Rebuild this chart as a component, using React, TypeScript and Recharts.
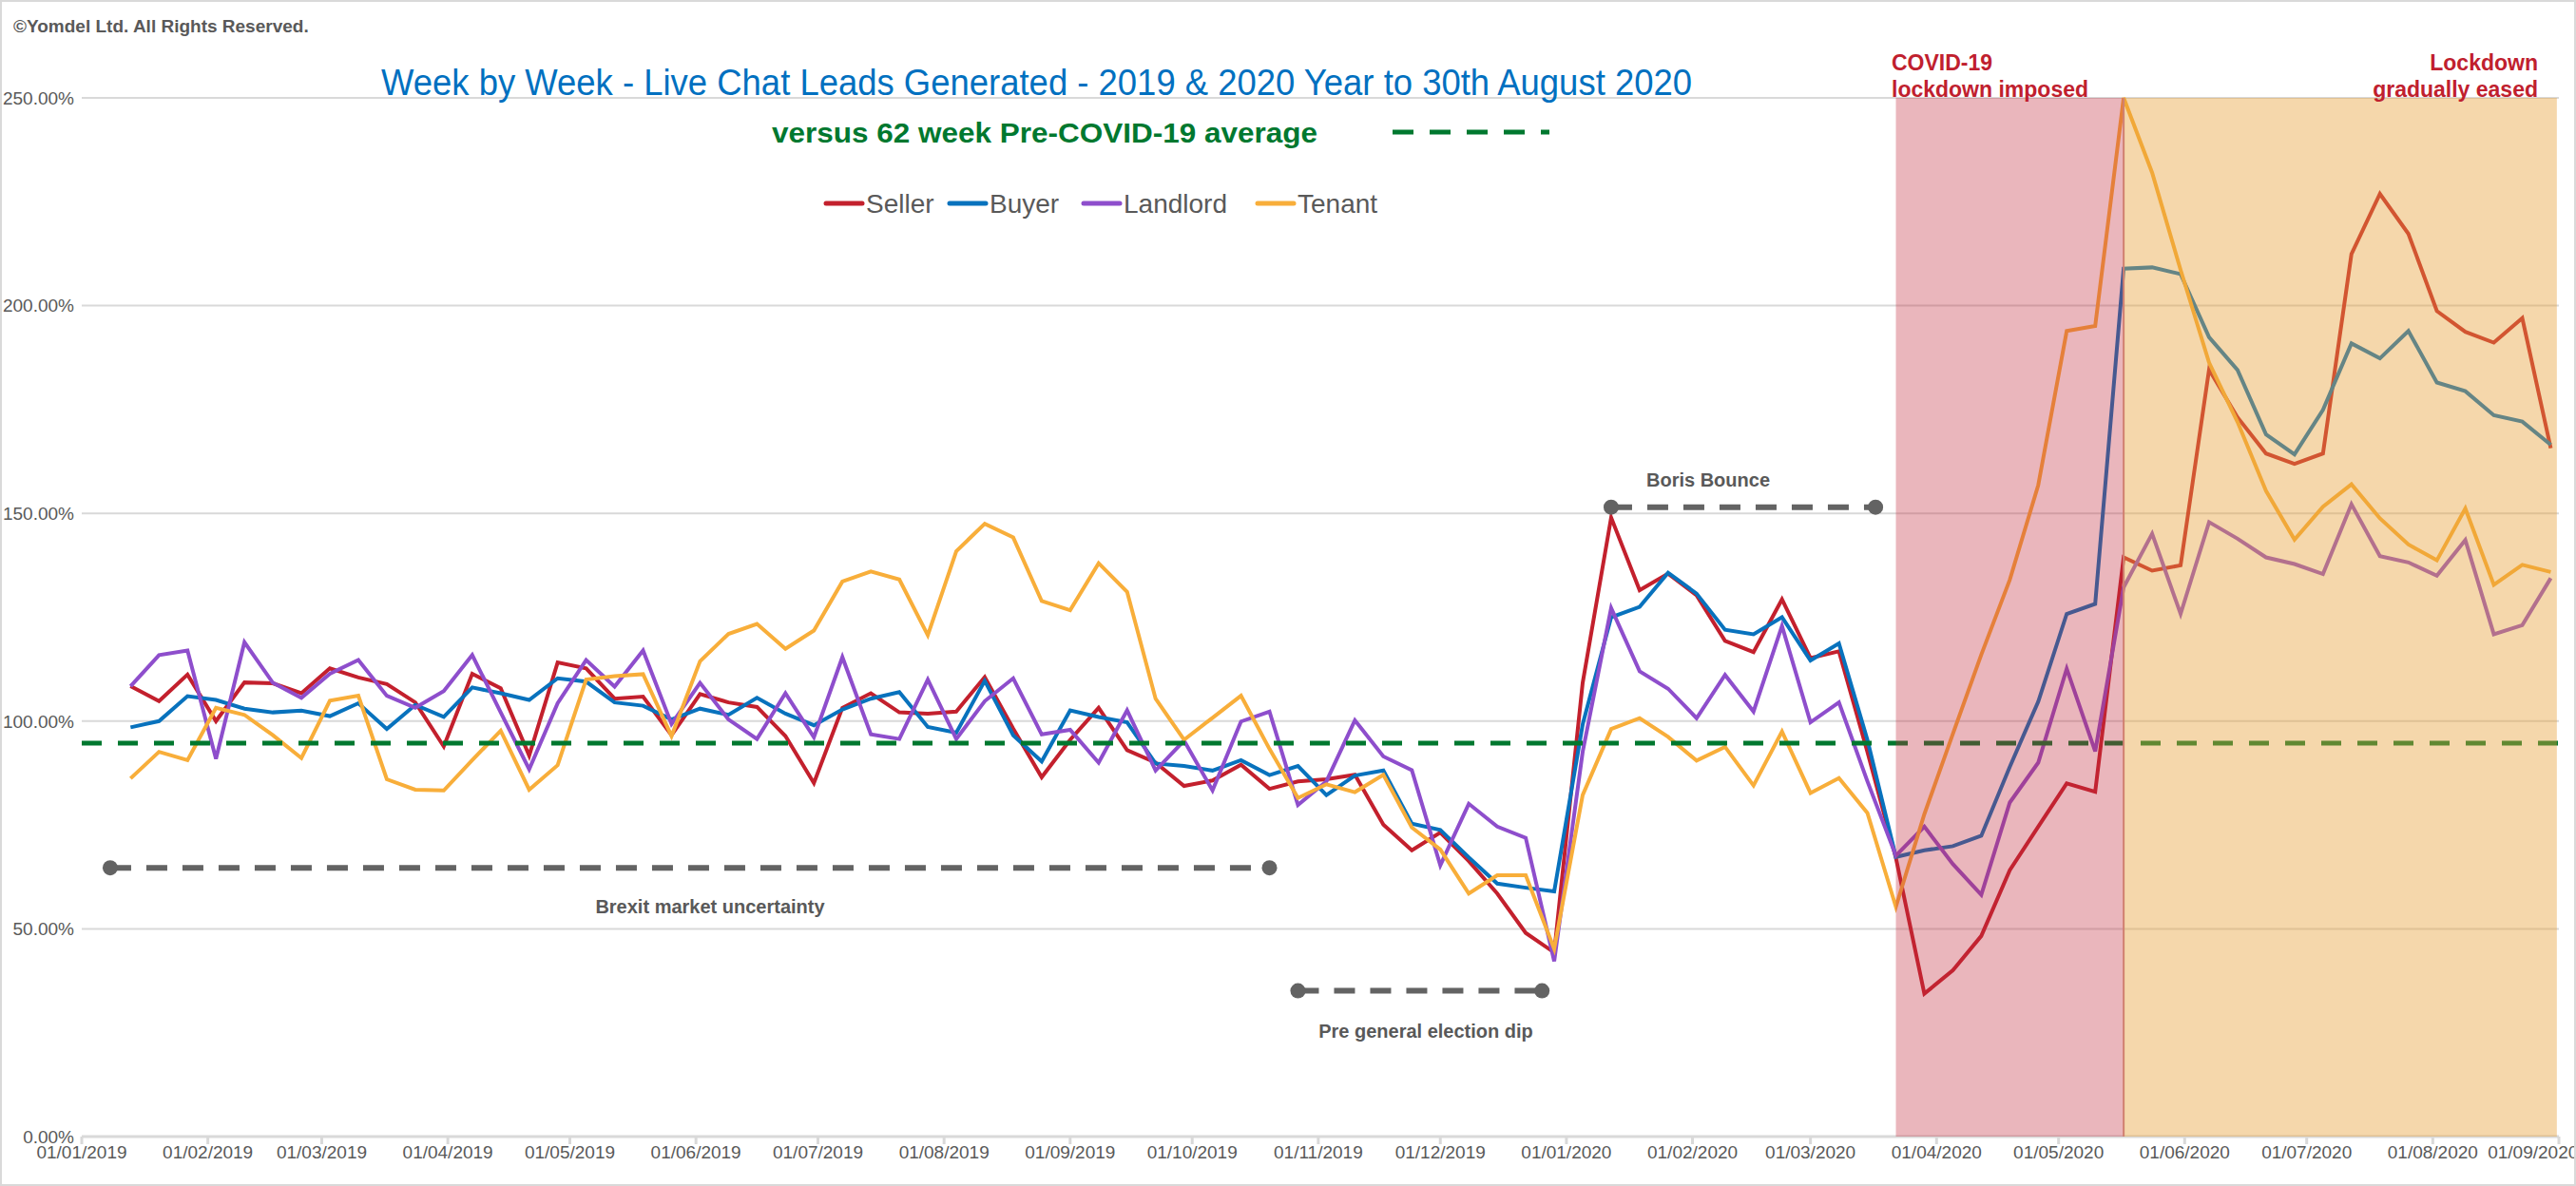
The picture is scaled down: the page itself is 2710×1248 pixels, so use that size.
import React from 'react';
import {
  LineChart, Line, XAxis, YAxis, CartesianGrid, ReferenceLine, ReferenceArea, ReferenceDot,
} from 'recharts';

// weekly points, first week ending 13/01/2019
const firstWeek = '2019-01-13';
const weekCount = 86;

const seller = [
  108.4, 104.8, 111.2, 100, 109.3, 109.1, 106.7, 112.7, 110.5, 108.9,
  104.5, 93.9, 111.4, 107.9, 91.7, 114.1, 112.7, 105.4, 105.9, 96.6,
  106.5, 104.5, 103.4, 96.4, 85.1, 103.2, 106.7, 102.1, 101.8, 102.3,
  110.6, 98.2, 86.5, 95.5, 103.2, 93, 90, 84.4, 85.7, 89.5,
  83.7, 85.5, 86, 87.1, 75.1, 68.9, 73.2, 66.3, 58.5, 49,
  44.3, 109.2, 149, 131.5, 135.5, 130.3, 119.3, 116.6, 129.3, 115.2,
  116.8, 92.6, 67.1, 34.4, 40, 48.3, 64.1, 74.6, 85, 83,
  139.4, 136.2, 137.5, 184.6, 173.1, 164.4, 161.9, 164.4, 212.4, 226.9,
  217.3, 198.7, 193.7, 191.1, 197, 165.7,
];
const buyer = [
  98.5, 100, 106, 105.1, 103, 102.1, 102.5, 101.2, 104.3, 98.1,
  103.9, 101, 108.1, 106.7, 105.1, 110.3, 109.5, 104.5, 103.7, 100.4,
  103, 101.5, 105.6, 101.8, 99, 102.8, 105.4, 107, 98.6, 97.2,
  109.7, 96.6, 90.3, 102.6, 101, 99.7, 89.8, 89.2, 88.1, 90.6,
  87, 89.2, 82.2, 86.9, 88.1, 75.3, 73.8, 67.2, 60.9, 59.9,
  59, 99.2, 125, 127.5, 135.7, 130.7, 122, 120.9, 125, 114.6,
  118.7, 95.5, 67.3, 68.9, 69.9, 72.4, 89, 104.7, 125.8, 128.2,
  208.9, 209.2, 207.6, 192.4, 184.5, 169, 164.2, 174.9, 190.9, 187.3,
  193.9, 181.5, 179.4, 173.6, 172.1, 166.5,
];
const landlord = [
  108.4, 115.9, 117, 90.9, 119, 109.2, 105.6, 111.4, 114.7, 106.1,
  103.2, 107.2, 115.9, 102.1, 88.4, 104.3, 114.7, 108.3, 117, 99.3,
  109.2, 100.4, 95.7, 106.7, 96.1, 115.4, 96.8, 95.7, 110, 95.7,
  104.8, 110.3, 96.8, 97.9, 90, 102.6, 88.1, 95.3, 83.3, 99.9,
  102.3, 79.8, 85.5, 100.2, 91.5, 88.2, 65.3, 80.1, 74.6, 71.9,
  42.2, 92.6, 127.2, 112, 107.8, 100.7, 111.1, 102.3, 122.9, 99.7,
  104.5, 85.5, 67.6, 74.6, 65.6, 58.2, 80.4, 90, 112.6, 92.7,
  132.2, 145.1, 125.8, 147.9, 143.9, 139.4, 137.8, 135.4, 152.2, 139.7,
  138.2, 135, 143.6, 120.9, 123.1, 134.4,
];
const tenant = [
  86.2, 92.6, 90.6, 103.2, 101.5, 96.6, 91.1, 104.9, 106.1, 86,
  83.5, 83.3, 90.6, 97.7, 83.5, 89.4, 110, 110.8, 111.3, 96.4,
  114.4, 121, 123.4, 117.4, 121.8, 133.6, 136, 134.1, 120.7, 140.9,
  147.5, 144.2, 128.9, 126.7, 138, 131.1, 105.4, 95.5, 100.8, 106.1,
  93.3, 81.5, 84.8, 82.9, 87.1, 74.4, 69.1, 58.5, 62.9, 62.9,
  45.2, 82.2, 98.1, 100.7, 96.2, 90.5, 93.8, 84.5, 97.5, 82.7,
  86.3, 77.9, 55.3, 77.6, 96.9, 116, 134, 156.8, 193.9, 195.1,
  250, 232, 208.6, 186.3, 172, 155.4, 143.7, 151.6, 157, 148.8,
  142.5, 138.7, 151.2, 132.8, 137.6, 135.9,
];

const monthTicks = [
  '2019-01-01', '2019-02-01', '2019-03-01', '2019-04-01', '2019-05-01', '2019-06-01', '2019-07-01',
  '2019-08-01', '2019-09-01', '2019-10-01', '2019-11-01', '2019-12-01', '2020-01-01', '2020-02-01',
  '2020-03-01', '2020-04-01', '2020-05-01', '2020-06-01', '2020-07-01', '2020-08-01', '2020-09-01',
];
const yTicks = [0, 50, 100, 150, 200, 250];
const preCovidAverage = 94.7;

const DAY = 86400000;
const origin = Date.UTC(2019, 0, 1);
const toDay = (s: string) => (Date.parse(s + 'T00:00:00Z') - origin) / DAY;
const fmtDay = (d: number) => {
  const dt = new Date(origin + d * DAY);
  const p = (n: number) => String(n).padStart(2, '0');
  return `${p(dt.getUTCDate())}/${p(dt.getUTCMonth() + 1)}/${dt.getUTCFullYear()}`;
};

const start = toDay(firstWeek);
const data = Array.from({ length: weekCount }, (_, i) => ({
  day: start + i * 7,
  seller: seller[i],
  buyer: buyer[i],
  landlord: landlord[i],
  tenant: tenant[i],
}));

// annotation periods (from / to)
const lockdownStart = toDay('2020-03-22');
const easingStart = toDay('2020-05-17');
const easingEnd = toDay('2020-08-30') + 1.5;

const GREY = '#595959';
const DASH_GREY = '#636363';
const RED = '#C0202E';
const font = '"Liberation Sans Narrow", "Liberation Sans", Arial, sans-serif';
const legendFont = '"Liberation Sans", Arial, sans-serif';

const series = [
  { key: 'seller', name: 'Seller', color: '#C3202D' },
  { key: 'buyer', name: 'Buyer', color: '#0872BD' },
  { key: 'landlord', name: 'Landlord', color: '#8E4ECC' },
  { key: 'tenant', name: 'Tenant', color: '#F8AE3A' },
];
const legendX = [869, 999, 1140, 1323];

function Marker({ x1, x2, y }: { x1: number; x2: number; y: number }) {
  return (
    <>
      <ReferenceLine
        segment={[{ x: x1, y }, { x: x2, y }]}
        stroke={DASH_GREY}
        strokeWidth={6}
        strokeDasharray="22 16"
        zIndex={1200}
      />
      <ReferenceDot x={x1} y={y} r={8} fill={DASH_GREY} stroke="none" zIndex={1200} />
      <ReferenceDot x={x2} y={y} r={8} fill={DASH_GREY} stroke="none" zIndex={1200} />
    </>
  );
}

export default function App() {
  return (
    <div style={{ position: 'absolute', left: 0, top: 0, width: 2710, height: 1248, background: '#fff', fontFamily: font }}>
      <LineChart width={2708} height={1246} data={data} margin={{ top: 103, right: 16, left: 0, bottom: 0 }}>
        <CartesianGrid vertical={false} stroke="#D9D9D9" strokeWidth={2} />
        <XAxis
          dataKey="day"
          type="number"
          domain={[0, toDay('2020-09-01')]}
          ticks={monthTicks.map(toDay)}
          tickFormatter={fmtDay}
          height={50}
          stroke="#D9D9D9"
          strokeWidth={3}
          tickSize={8}
          tick={{ fill: GREY, fontSize: 19, fontFamily: font }}
          allowDataOverflow
        />
        <YAxis
          domain={[0, 250]}
          ticks={yTicks}
          tickFormatter={(v: number) => v.toFixed(2) + '%'}
          width={86}
          axisLine={false}
          tickLine={false}
          tick={{ fill: GREY, fontSize: 19, fontFamily: font }}
        />
        {series.map((s) => (
          <Line
            key={s.key}
            dataKey={s.key}
            name={s.name}
            stroke={s.color}
            strokeWidth={4}
            dot={false}
            isAnimationActive={false}
          />
        ))}
        <ReferenceArea x1={lockdownStart} x2={easingStart} y1={0} y2={250} fill="#C0283A" fillOpacity={0.34} stroke="none" zIndex={1000} />
        <ReferenceArea x1={easingStart} x2={easingEnd} y1={0} y2={250} fill="#E6A038" fillOpacity={0.42} stroke="none" zIndex={1000} />
        <ReferenceLine x={easingStart} stroke="#D08070" strokeWidth={2} zIndex={1001} />
        <ReferenceLine y={preCovidAverage} stroke="#00782F" strokeWidth={5} strokeDasharray="21 17" zIndex={900} />
        <Marker x1={toDay('2019-01-08')} x2={toDay('2019-10-20')} y={64.7} />
        <Marker x1={toDay('2019-10-27')} x2={toDay('2019-12-26')} y={35.1} />
        <Marker x1={toDay('2020-01-12')} x2={toDay('2020-03-17')} y={151.5} />
      </LineChart>

      <svg width={2710} height={1248} style={{ position: 'absolute', left: 0, top: 0, pointerEvents: 'none' }} fontFamily={font}>
        <rect x={1} y={1} width={2708} height={1246} fill="none" stroke="#D9D9D9" strokeWidth={2} />
        <text x={14} y={34} fontSize={19} fontWeight="bold" fill={GREY}>©Yomdel Ltd. All Rights Reserved.</text>
        <text x={401} y={100} fontSize={38} fill="#0070C0" textLength={1379} lengthAdjust="spacingAndGlyphs">
          Week by Week - Live Chat Leads Generated - 2019 &amp; 2020 Year to 30th August 2020
        </text>
        <text x={812} y={150} fontSize={30} fontWeight="bold" fill="#00782F" textLength={574} lengthAdjust="spacingAndGlyphs">
          versus 62 week Pre-COVID-19 average
        </text>
        <line x1={1465} y1={139} x2={1630} y2={139} stroke="#00782F" strokeWidth={5} strokeDasharray="22 17" />
        {series.map((s, i) => (
          <g key={s.key}>
            <line x1={legendX[i]} y1={214} x2={legendX[i] + 38} y2={214} stroke={s.color} strokeWidth={5} strokeLinecap="round" />
            <text x={legendX[i] + 42} y={224} fontSize={28} fill={GREY} fontFamily={legendFont}>{s.name}</text>
          </g>
        ))}
        <text x={747} y={961} fontSize={20} fontWeight="bold" fill={GREY} textAnchor="middle">Brexit market uncertainty</text>
        <text x={1500} y={1092} fontSize={20} fontWeight="bold" fill={GREY} textAnchor="middle">Pre general election dip</text>
        <text x={1797} y={512} fontSize={20} fontWeight="bold" fill={GREY} textAnchor="middle">Boris Bounce</text>
        <text x={1990} y={74} fontSize={23} fontWeight="bold" fill={RED}>COVID-19</text>
        <text x={1990} y={102} fontSize={23} fontWeight="bold" fill={RED}>lockdown imposed</text>
        <text x={2670} y={74} fontSize={23} fontWeight="bold" fill={RED} textAnchor="end">Lockdown</text>
        <text x={2670} y={102} fontSize={23} fontWeight="bold" fill={RED} textAnchor="end">gradually eased</text>
      </svg>
    </div>
  );
}
